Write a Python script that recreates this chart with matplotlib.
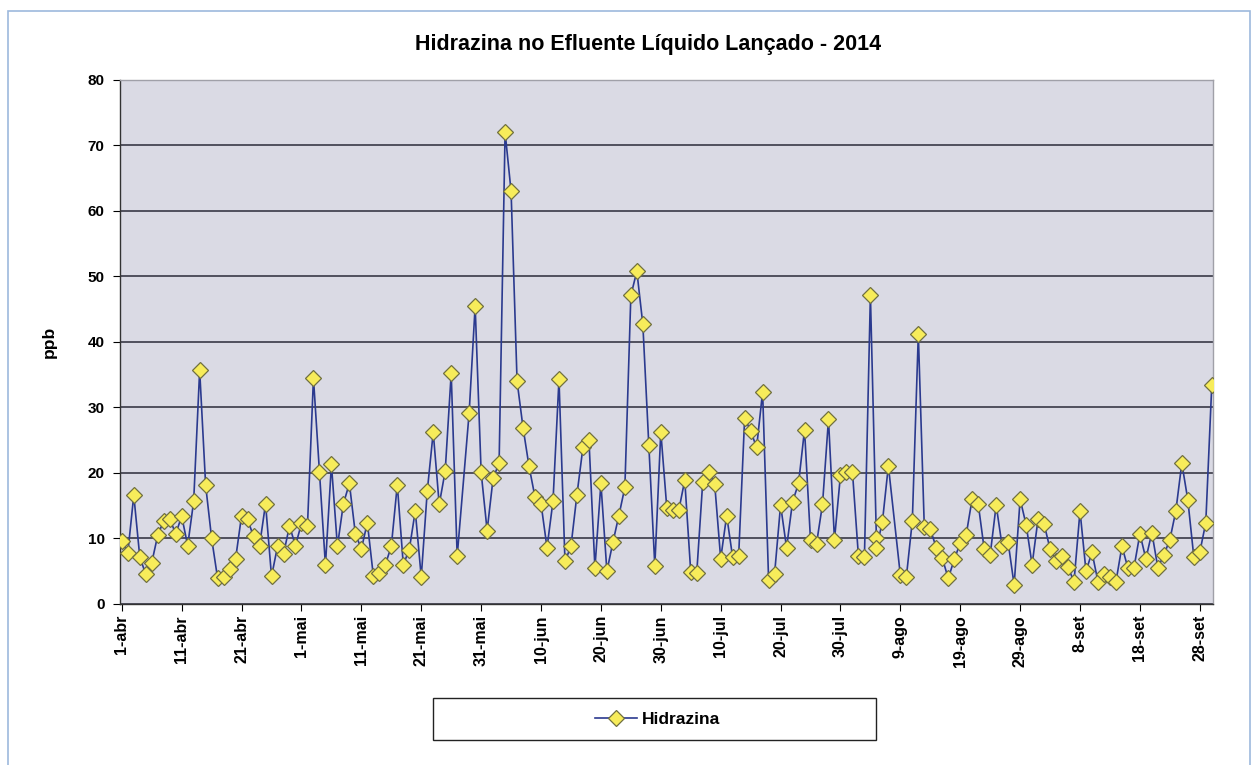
import matplotlib
matplotlib.use('Agg')
import matplotlib.pyplot as plt
from matplotlib.patches import Rectangle

plt.rcParams['font.family'] = ['Liberation Sans', 'DejaVu Sans']

# dias contados a partir de 1-abr-2014, leituras de hidrazina (ppb)
dias = [0, 1, 2, 3, 4, 5, 6, 7, 8, 9, 10, 11, 12, 13, 14, 15, 16, 17, 18, 19,
        20, 21, 22, 23, 24, 25, 26, 27, 28, 29, 30, 31, 32, 33, 34, 35, 36, 37, 38, 39,
        40, 41, 42, 43, 44, 45, 46, 47, 48, 49, 50, 51, 52, 53, 54, 55, 56, 58, 59,
        60, 61, 62, 63, 64, 65, 66, 67, 68, 69, 70, 71, 72, 73, 74, 75, 76, 77, 78, 79,
        80, 81, 82, 83, 84, 85, 86, 87, 88, 89, 90, 91, 92, 93, 94, 95, 96, 97, 98, 99,
        100, 101, 102, 103, 104, 105, 106, 107, 108, 109, 110, 111, 112, 113, 114, 115,
        116, 117, 118, 119, 120, 121, 122, 123, 124, 125, 126, 126, 127, 128,
        130, 131, 132, 133, 134, 135, 136, 137, 138, 139, 140, 141, 142, 143, 144, 145,
        146, 147, 148, 149, 150, 151, 152, 153, 154, 155, 156, 157, 158, 159, 160, 161,
        162, 163, 164, 165, 166, 167, 168, 169, 170, 171, 172, 173, 174, 175, 176, 177,
        178, 179, 180, 181, 182]

hidrazina = [9.6, 7.8, 16.6, 7.2, 4.5, 6.3, 10.5, 12.7, 13.0, 10.7, 13.4, 8.9, 15.7, 35.7, 18.1,
             10.0, 3.9, 4.1, 5.4, 6.9, 13.5, 12.9, 10.3, 8.9, 15.3, 4.2, 8.8, 7.6, 11.9, 8.9,
             12.3, 11.9, 34.5, 20.2, 5.9, 21.3, 8.8, 15.3, 18.4, 10.7, 8.4, 12.4, 4.3, 4.7, 6.0,
             8.8, 18.2, 6.0, 8.3, 14.2, 4.1, 17.2, 26.2, 15.2, 20.3, 35.2, 7.3, 29.2, 45.5,
             20.1, 11.2, 19.2, 21.5, 72.0, 63.0, 34.0, 26.9, 21.0, 16.3, 15.3, 8.6, 15.7, 34.3,
             6.5, 8.8, 16.7, 23.9, 25.1, 5.5, 18.4, 5.0, 9.4, 13.5, 17.8, 47.1, 50.8, 42.7,
             24.2, 5.8, 26.3, 14.7, 14.4, 14.3, 18.9, 4.9, 4.7, 18.6, 20.2, 18.3, 6.9, 13.5,
             7.1, 7.3, 28.4, 26.4, 23.9, 32.4, 3.7, 4.6, 15.1, 8.6, 15.6, 18.4, 26.6, 9.7,
             9.2, 15.2, 28.2, 9.8, 19.7, 20.1, 20.2, 7.3, 7.1, 47.2, 10.0, 8.5, 12.5, 21.1,
             4.4, 4.1, 12.7, 41.2, 11.7, 11.4, 8.6, 7.0, 3.9, 6.8, 9.3, 10.6, 16.1, 15.3, 8.4,
             7.5, 15.1, 8.8, 9.4, 2.9, 16.0, 12.1, 6.0, 13.0, 12.2, 8.4, 6.6, 7.3, 5.6, 3.4,
             14.2, 5.0, 7.9, 3.4, 4.6, 4.1, 3.4, 8.8, 5.5, 5.5, 10.7, 6.9, 10.9, 5.5, 7.5,
             9.8, 14.2, 21.5, 15.9, 7.2, 7.9, 12.4, 33.4]

tick_dias = [0, 10, 20, 30, 40, 50, 60, 70, 80, 90, 100, 110, 120, 130, 140, 150, 160, 170, 180]
tick_rotulos = ['1-abr', '11-abr', '21-abr', '1-mai', '11-mai', '21-mai', '31-mai', '10-jun',
                '20-jun', '30-jun', '10-jul', '20-jul', '30-jul', '9-ago', '19-ago', '29-ago',
                '8-set', '18-set', '28-set']

fig = plt.figure(figsize=(12.58, 7.65), dpi=100)
ax = fig.add_axes([0.0954, 0.2105, 0.8688, 0.685])
ax.set_facecolor('#DADAE4')

# moldura externa azul clara
fig.patches.append(Rectangle((0.0064, -0.02), 0.987, 1.006, transform=fig.transFigure,
                             fill=False, edgecolor='#9DB9DD', linewidth=1.2))

ax.plot(dias, hidrazina, color='#2B3A8F', linewidth=1.2, marker='D', markersize=8,
        markerfacecolor='#F7EC5A', markeredgecolor='#707040', markeredgewidth=0.9,
        label='Hidrazina', zorder=3)

ax.set_xlim(-0.3, 182.2)
ax.set_ylim(0, 80)
ax.set_yticks(range(0, 81, 10))
ax.set_xticks(tick_dias)
ax.set_xticklabels(tick_rotulos, rotation=90, fontsize=11.5, fontweight='bold')
ax.tick_params(axis='y', labelsize=11, length=5, direction='out', pad=6)
ax.tick_params(axis='x', length=5, direction='out', pad=3)
for lb in ax.get_yticklabels():
    lb.set_fontweight('bold')
ax.grid(axis='y', color='#2A2A38', linewidth=1.1)
ax.set_axisbelow(True)

for s in ['left', 'bottom']:
    ax.spines[s].set_color('#333333')
    ax.spines[s].set_linewidth(1.0)
for s in ['top', 'right']:
    ax.spines[s].set_color('#A0A0A8')
    ax.spines[s].set_linewidth(1.0)

ax.set_ylabel('ppb', fontsize=12.5, fontweight='bold', labelpad=22)
fig.text(0.515, 0.942, 'Hidrazina no Efluente Líquido Lançado - 2014',
         ha='center', va='center', fontsize=15.5, fontweight='bold')

# caixa da legenda larga, como no original
fig.patches.append(Rectangle((433 / 1258, 1 - 740 / 765), 443 / 1258, 42 / 765,
                             transform=fig.transFigure, fill=False,
                             edgecolor='#222222', linewidth=1.0))
leg = fig.legend(loc='center', bbox_to_anchor=(0.523, 1 - 719 / 765), frameon=False,
                 fontsize=12.5, handlelength=2.4, handletextpad=0.3)
for t in leg.get_texts():
    t.set_fontweight('bold')

fig.savefig('out.png', dpi=100)
